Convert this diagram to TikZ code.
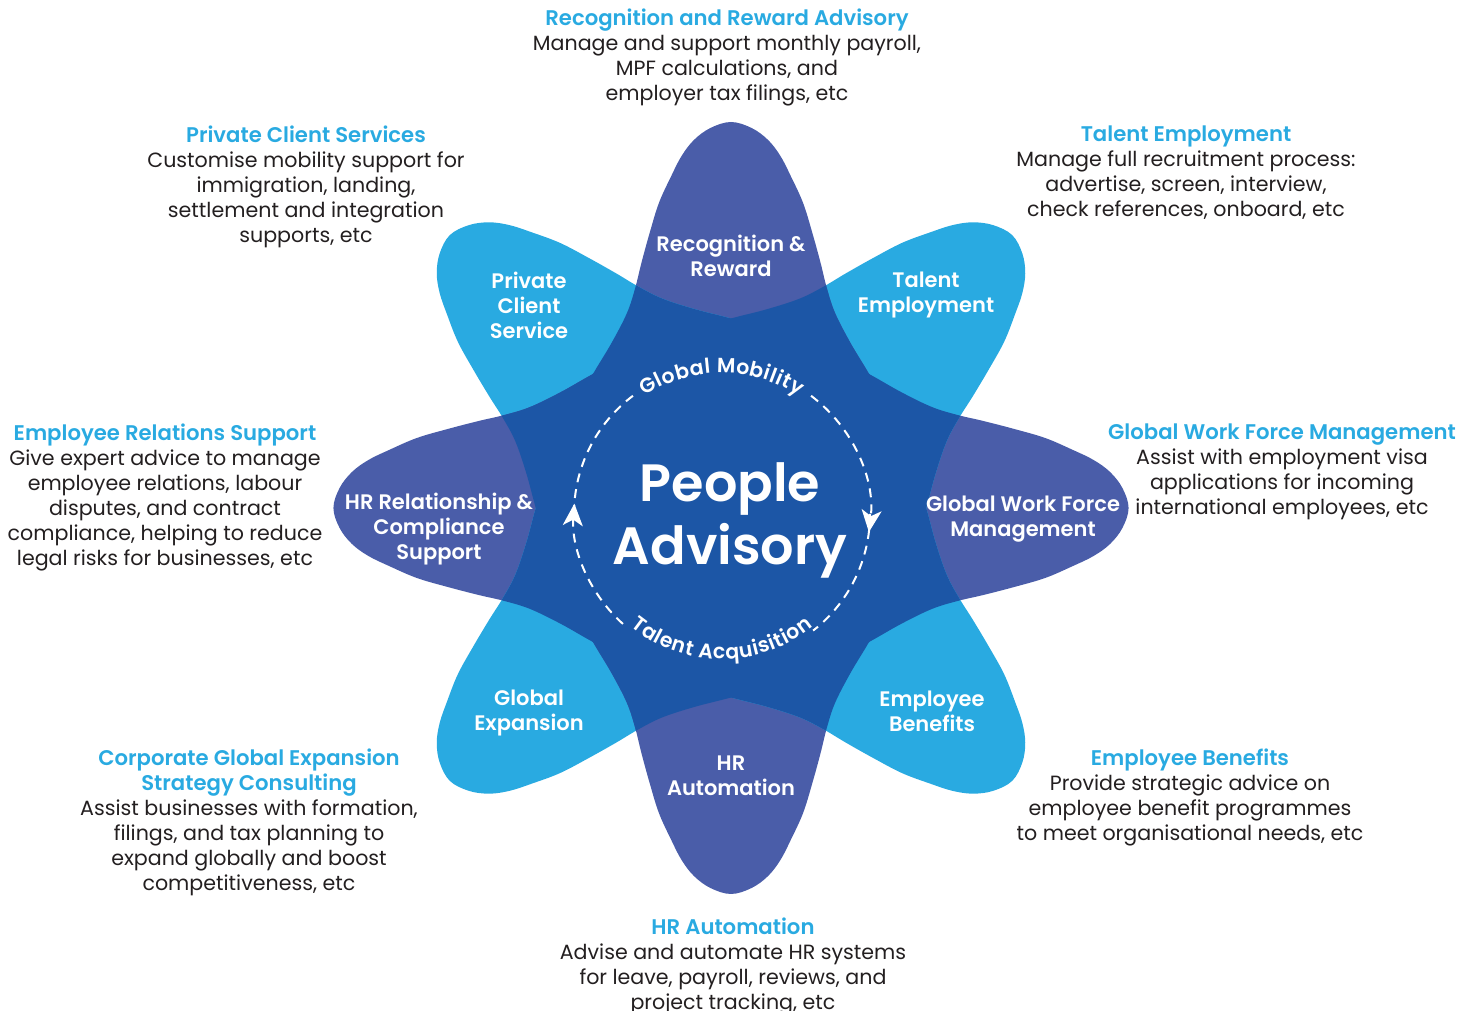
\documentclass[tikz,border=0pt]{standalone}
\usepackage{fontspec}
\setmainfont{Poppins}
\newfontfamily\psemi{Poppins SemiBold}
\usetikzlibrary{decorations.text, arrows.meta}
\definecolor{petdark}{HTML}{4A5DA9}
\definecolor{petlight}{HTML}{29AAE1}
\definecolor{core}{HTML}{1C56A6}
\definecolor{headblue}{HTML}{29AAE1}
\definecolor{bodytext}{HTML}{231F20}
\tikzset{
  infoblock/.style={anchor=north, align=center, inner sep=0pt, text=bodytext,
    font=\fontsize{20.6}{25}\selectfont},
  petlabel/.style={align=center, inner sep=0pt, text=white,
    font=\psemi\fontsize{21}{25}\selectfont},
  ring/.style={white, line width=2pt, dash pattern=on 9pt off 7pt},
  ringtip/.style={-{Stealth[length=22pt, width=20pt, inset=6pt]}}
}
\newcommand{\hd}[1]{{\color{headblue}\psemi\fontsize{21.2}{25}\selectfont #1}}
\begin{document}
\begin{tikzpicture}[x=1pt, y=1pt]
\useasboundingbox (0,0) rectangle (1473,1011);
% ---------- star of petals ----------
\begin{scope}[shift={(731,503)}, xscale=1.03]
\def\petal{plot[smooth cycle, tension=0.6] coordinates {
 (386,0) (380,20) (368,36) (352,48) (332,58) (305,70) (275,79) (245,87) (220,93)
 (195,101) (165,116) (134,134) (100,152) (55,168) (0,175) (-50,120) (-65,0)
 (-50,-120) (0,-175) (55,-168) (100,-152) (134,-134) (165,-116) (195,-101)
 (220,-93) (245,-87) (275,-79) (305,-70) (332,-58) (352,-48) (368,-36) (380,-20)}}
\foreach \a/\c in {0/petdark,45/petlight,90/petdark,135/petlight,180/petdark,225/petlight,270/petdark,315/petlight}
  \fill[\c, rotate=\a] \petal;
\foreach \i in {0,...,6}{
  \pgfmathtruncatemacro\ip{\i+1}
  \foreach \j in {\ip,...,7}{
    \begin{scope}
      \clip[rotate=45*\i] \petal;
      \fill[core, rotate=45*\j] \petal;
    \end{scope}
  }
}
\end{scope}
% ---------- ring ----------
\coordinate (cc) at (722,497);
\draw[ring, ringtip] (cc) ++(228:148) arc[start angle=228, end angle=176, radius=148];
\draw[ring] (cc) ++(180:148) arc[start angle=180, end angle=127, radius=148];
\draw[ring, ringtip] (cc) ++(53:148) arc[start angle=53, end angle=-7, radius=148];
\draw[ring] (cc) ++(0:148) arc[start angle=0, end angle=-52, radius=148];
\path[decorate, decoration={text along path, text align={fit to path}, raise=-7pt,
  text={|\psemi\fontsize{20.5}{22}\selectfont\color{white}|Global Mobility}}]
  (cc) ++(123:148) arc[start angle=123, end angle=57, radius=148];
\path[decorate, decoration={text along path, text align={fit to path}, raise=3pt,
  text={|\psemi\fontsize{20.5}{22}\selectfont\color{white}|Talent Acquisition}}]
  (cc) ++(231:148) arc[start angle=231, end angle=309, radius=148];
% ---------- centre ----------
\node[align=center, inner sep=0pt, text=white, font=\psemi\fontsize{52.5}{63}\selectfont] (core) at (730,491) {People\\Advisory};
% ---------- petal labels ----------
\node[petlabel] (lrr) at (731,755.5) {Recognition \&\\Reward};
\node[petlabel] (lpc) at (529,706) {Private\\Client\\Service};
\node[petlabel] (lte) at (926,715.5) {Talent\\Employment};
\node[petlabel] (lhr) at (439,482) {HR Relationship \&\\Compliance\\Support};
\node[petlabel] (lgw) at (1023,491.5) {Global Work Force\\Management};
\node[petlabel] (lge) at (529,297.5) {Global\\Expansion};
\node[petlabel] (leb) at (932,299.5) {Employee\\Benefits};
\node[petlabel] (lha) at (731,235.5) {HR\\Automation};
% ---------- descriptions ----------
\node[infoblock] (drr) at (727,1002) {\hd{Recognition and Reward Advisory}\\Manage and support monthly payroll,\\MPF calculations, and\\employer tax filings, etc};
\node[infoblock] (dpc) at (306,885) {\hd{Private Client Services}\\Customise mobility support for\\immigration, landing,\\settlement and integration\\supports, etc};
\node[infoblock] (dte) at (1186,885) {\hd{Talent Employment}\\Manage full recruitment process:\\advertise, screen, interview,\\check references, onboard, etc};
\node[infoblock] (der) at (165,587) {\hd{Employee Relations Support}\\Give expert advice to manage\\employee relations, labour\\disputes, and contract\\compliance, helping to reduce\\legal risks for businesses, etc};
\node[infoblock] (dgw) at (1282,587) {\hd{Global Work Force Management}\\Assist with employment visa\\applications for incoming\\international employees, etc};
\node[infoblock] (dge) at (249,262) {\hd{Corporate Global Expansion}\\\hd{Strategy Consulting}\\Assist businesses with formation,\\filings, and tax planning to\\expand globally and boost\\competitiveness, etc};
\node[infoblock] (deb) at (1190,262) {\hd{Employee Benefits}\\Provide strategic advice on\\employee benefit programmes\\to meet organisational needs, etc};
\node[infoblock] (dha) at (733,93) {\hd{HR Automation}\\Advise and automate HR systems\\for leave, payroll, reviews, and\\project tracking, etc};
\end{tikzpicture}
\end{document}
